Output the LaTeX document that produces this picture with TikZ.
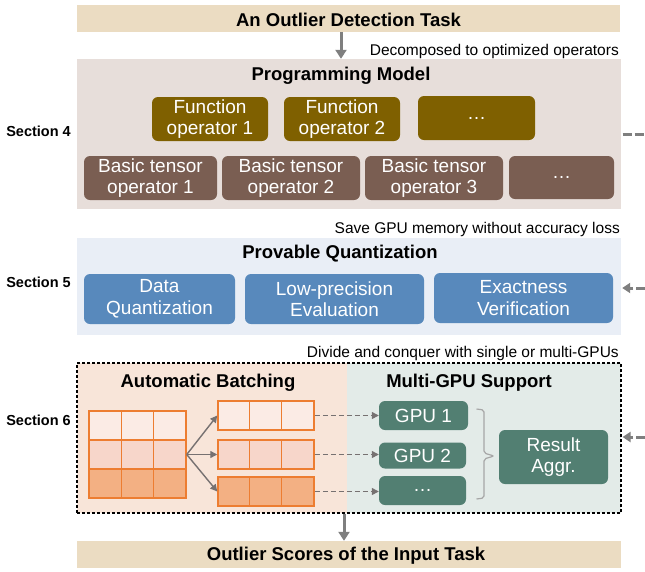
\documentclass[tikz,border=0pt]{standalone}
\usepackage{fontspec}
\setmainfont{Liberation Sans}
\usetikzlibrary{arrows.meta,calc}
\definecolor{beige}{HTML}{EBDCC2}
\definecolor{pmbg}{HTML}{E7DEDA}
\definecolor{fobox}{HTML}{7F6000}
\definecolor{btbox}{HTML}{7A5E52}
\definecolor{pqbg}{HTML}{E9EEF6}
\definecolor{bluebox}{HTML}{5889BC}
\definecolor{orbg}{HTML}{F8E5D9}
\definecolor{grbg}{HTML}{E3EBE8}
\definecolor{teal}{HTML}{527F72}
\definecolor{garrow}{HTML}{7F7F7F}
\definecolor{thinarrow}{HTML}{767171}
\definecolor{orline}{HTML}{ED7D31}
\definecolor{rowA}{HTML}{FBEBE5}
\definecolor{rowB}{HTML}{F7D6CA}
\definecolor{rowC}{HTML}{F3B083}
\definecolor{bracec}{HTML}{A6A6A6}
\tikzset{
  panel/.style={rectangle,inner sep=0pt,anchor=center},
  opbox/.style={rectangle,rounded corners=6pt,inner sep=0pt,text=white,align=center,
    font=\fontsize{19}{21.5}\selectfont},
  ttl/.style={font=\bfseries\fontsize{18.5}{20}\selectfont,inner sep=0pt},
  note/.style={font=\fontsize{15.5}{17}\selectfont,inner sep=0pt,anchor=east},
  seclbl/.style={font=\bfseries\fontsize{14.5}{16}\selectfont,inner sep=0pt},
  bigarrow/.style={draw=garrow,line width=3pt,-{Triangle[length=9pt,width=11pt]}},
  sidearrow/.style={draw=garrow,line width=3pt,dash pattern=on 9pt off 3pt,-{Triangle[length=8pt,width=10pt]}},
  sideline/.style={draw=garrow,line width=3pt,dash pattern=on 9pt off 3pt},
  batcharrow/.style={draw=thinarrow,line width=1.4pt,-{Triangle[length=7pt,width=7pt]}},
  gpuarrow/.style={draw=thinarrow,line width=1.2pt,dash pattern=on 5pt off 3pt,-{Triangle[length=7pt,width=7pt]}},
  gridrow/.style={rectangle,inner sep=0pt,draw=orline,line width=1.5pt,minimum width=96pt,minimum height=29pt},
}
\begin{document}
\begin{tikzpicture}[x=1pt,y=-1pt]
\useasboundingbox (0,0) rectangle (645,571);

% Top task
\node[panel,fill=beige,minimum width=543pt,minimum height=27pt] (task) at (348.5,18.5) {};
\node[ttl] (tasklbl) at (348.5,19.5) {An Outlier Detection Task};

% Programming model
\node[panel,fill=pmbg,minimum width=544pt,minimum height=150pt] (pm) at (349,134) {};
\node[ttl] (pmtitle) at (341,75.5) {Programming Model};
\node[note] (n1) at (619,51) {Decomposed to optimized operators};
\node[seclbl] (s4) at (38.5,131) {Section 4};
\node[opbox,fill=fobox,minimum width=116pt,minimum height=44pt] (fo1) at (210,119) {Function\\operator 1};
\node[opbox,fill=fobox,minimum width=116pt,minimum height=44pt] (fo2) at (342,119) {Function\\operator 2};
\node[opbox,fill=fobox,minimum width=117pt,minimum height=44pt] (fo3) at (476.5,118) {\dots};
\node[opbox,fill=btbox,minimum width=133pt,minimum height=44pt] (bt1) at (150.5,178) {Basic tensor\\operator 1};
\node[opbox,fill=btbox,minimum width=138pt,minimum height=44pt] (bt2) at (291,178) {Basic tensor\\operator 2};
\node[opbox,fill=btbox,minimum width=138pt,minimum height=44pt] (bt3) at (434,178) {Basic tensor\\operator 3};
\node[opbox,fill=btbox,minimum width=105pt,minimum height=43pt] (bt4) at (561.5,177.5) {\dots};

\draw[bigarrow] (task.south -| pmtitle) -- (pm.north -| pmtitle);

% Provable quantization
\node[note] (n2) at (620,229) {Save GPU memory without accuracy loss};
\node[panel,fill=pqbg,minimum width=544pt,minimum height=97pt] (pq) at (349,286.5) {};
\node[ttl] (pqtitle) at (340,253.5) {Provable Quantization};
\node[seclbl] (s5) at (38.5,282) {Section 5};
\node[opbox,fill=bluebox,minimum width=151pt,minimum height=50pt] (dq) at (159.5,299) {Data\\Quantization};
\node[opbox,fill=bluebox,minimum width=179pt,minimum height=50pt] (lp) at (334.5,299) {Low-precision\\Evaluation};
\node[opbox,fill=bluebox,minimum width=179pt,minimum height=50pt] (ev) at (523.5,298) {Exactness\\Verification};

% Section 6
\node[note] (n3) at (619,353) {Divide and conquer with single or multi-GPUs};
\node[panel,fill=orbg,minimum width=270pt,minimum height=150pt] (ab) at (212,438) {};
\node[panel,fill=grbg,minimum width=274pt,minimum height=150pt] (mg) at (484,438) {};
\node[panel,draw=black,line width=1.1pt,dash pattern=on 3pt off 2pt,minimum width=544pt,minimum height=150pt] (sec6) at (349,438) {};
\node[ttl] (abtitle) at (208,382.5) {Automatic Batching};
\node[ttl] (mgtitle) at (469,382.5) {Multi-GPU Support};
\node[seclbl] (s6) at (38.5,420) {Section 6};

% big grid
\node[gridrow,fill=rowA,minimum width=97pt] (bgA) at (137.5,425.5) {};
\node[gridrow,fill=rowB,minimum width=97pt] (bgB) at (137.5,454.5) {};
\node[gridrow,fill=rowC,minimum width=97pt] (bgC) at (137.5,483.5) {};
\draw[orline,line width=1.5pt] (121.3,411) -- (121.3,498) (153.7,411) -- (153.7,498);
\coordinate (split) at (bgB.east);

% small grids
\node[gridrow,fill=rowA] (sg1) at (266,415.5) {};
\node[gridrow,fill=rowB] (sg2) at (266,454.5) {};
\node[gridrow,fill=rowC] (sg3) at (266,491.5) {};
\foreach \r in {sg1,sg2,sg3}{
  \draw[orline,line width=1.5pt] ($(\r.south west)+(32,0)$) -- ($(\r.north west)+(32,0)$)
        ($(\r.south west)+(64,0)$) -- ($(\r.north west)+(64,0)$);
}
\draw[batcharrow] (split) -- (sg1.west);
\draw[batcharrow] (split) -- (sg2.west);
\draw[batcharrow] (split) -- (sg3.west);

% GPUs
\node[opbox,fill=teal,minimum width=89pt,minimum height=29pt] (g1) at (423.5,415.5) {GPU 1};
\node[opbox,fill=teal,minimum width=87pt,minimum height=26pt] (g2) at (422.5,455.5) {GPU 2};
\node[opbox,fill=teal,minimum width=87pt,minimum height=29pt] (g3) at (422.5,490.5) {\dots};
\draw[gpuarrow] (sg1.east) -- (g1.west |- sg1.east);
\draw[gpuarrow] (sg2.east) -- (g2.west |- sg2.east);
\draw[gpuarrow] (sg3.east) -- (g3.west |- sg3.east);

\node[opbox,fill=teal,minimum width=109pt,minimum height=54pt] (res) at (553.5,457) {Result\\Aggr.};
\coordinate (brtop) at (476.5,409);
\coordinate (brbot) at (476.5,499);
\coordinate (brtip) at (494,456);
\draw[bracec,line width=1.2pt,rounded corners=2pt]
  (brtop) -- (484,410) -- (484,453) -- (brtip) -- (484,459) -- (484,498) -- (brbot);

% bottom
\node[panel,fill=beige,minimum width=544pt,minimum height=27pt] (out) at (349,554.5) {};
\node[ttl] (outlbl) at (346,555.5) {Outlier Scores of the Input Task};
\draw[bigarrow] (sec6.south -| 344,0) -- (out.north -| 344,0);

% right edge connectors
\coordinate (e4) at (645,134);
\coordinate (e5) at (645,288);
\coordinate (e6) at (645,437);
\draw[sideline] ($(pm.east |- e4)+(1.5,0)$) -- (e4);
\draw[sidearrow] (e5) -- ($(pq.east |- e5)+(1,0)$);
\draw[sidearrow] (e6) -- ($(sec6.east |- e6)+(1,0)$);
\end{tikzpicture}
\end{document}
